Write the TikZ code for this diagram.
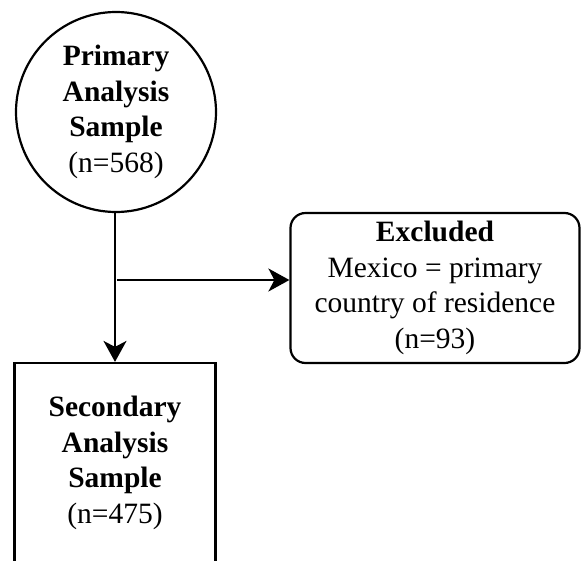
\documentclass[tikz,border=0pt]{standalone}
\usepackage{fontspec}
\setmainfont{Liberation Serif}
\usetikzlibrary{arrows.meta}
\begin{document}
\begin{tikzpicture}[x=1pt,y=-1pt,
  box/.style={draw, line width=2.2pt, align=center, inner sep=0pt,
    font=\fontsize{29.5}{35.5}\selectfont},
  arr/.style={line width=2.2pt, -{Stealth[length=21pt,width=23pt,inset=6pt]}}]
\clip (0,0) rectangle (581,560);
\useasboundingbox (0,0) rectangle (581,560);
\node[box, circle, minimum size=200pt] (prim) at (116,112)
  {\textbf{Primary}\\\textbf{Analysis}\\\textbf{Sample}\\(n=568)};
\node[box, rectangle, rounded corners=15pt, minimum width=289pt, minimum height=150pt] (excl) at (435,288)
  {\textbf{Excluded}\\Mexico = primary\\country of residence\\(n=93)};
\node[box, rectangle, minimum width=201pt, minimum height=200pt] (sec) at (115,463)
  {\textbf{Secondary}\\\textbf{Analysis}\\\textbf{Sample}\\(n=475)};
\coordinate (j) at (117,280);
\draw[arr] (prim.south -| sec.north) -- (sec.north);
\draw[arr] (j) -- (j -| excl.west);
\end{tikzpicture}
\end{document}
